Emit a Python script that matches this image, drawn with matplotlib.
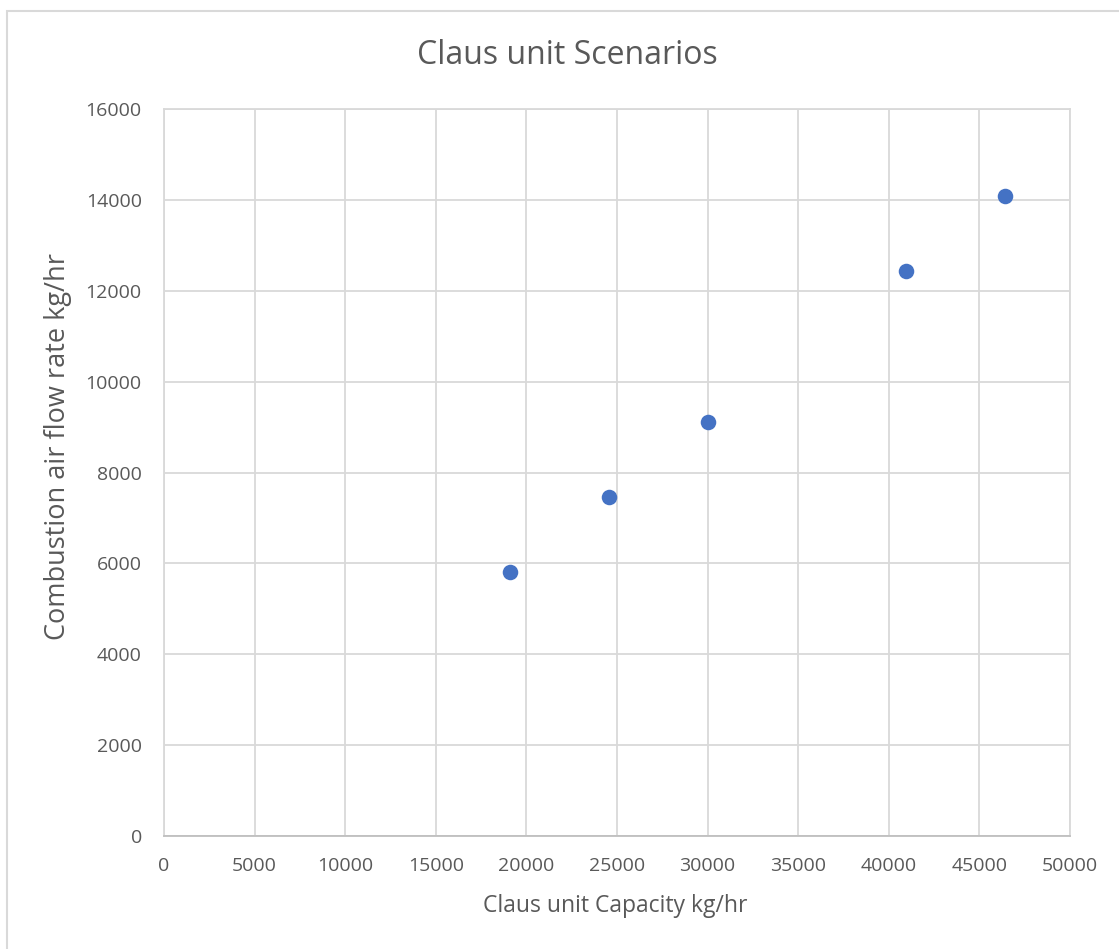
import matplotlib.pyplot as plt
from matplotlib.patches import Rectangle

# data
capacity = [19100, 24560, 30020, 40950, 46410]
air_flow = [5800, 7460, 9110, 12440, 14080]
x_ticks = list(range(0, 50001, 5000))
y_ticks = list(range(0, 16001, 2000))

TEXT = '#595959'
GRID = '#D9D9D9'
BLUE = '#4472C4'
W, H = 1119, 949

plt.rcParams['font.family'] = ['Open Sans', 'DejaVu Sans']

fig = plt.figure(figsize=(W / 100, H / 100), dpi=100)
ax = fig.add_axes([164 / W, 1 - 836 / H, 906 / W, 727 / H])

# outer chart border (only left/top edges visible in the reference)
fig.patches.append(Rectangle((7 / W, -0.1), 1.2, (H - 11) / H + 0.1,
                             transform=fig.transFigure, fill=False,
                             edgecolor=GRID, linewidth=1.5))

ax.scatter(capacity, air_flow, s=125, color=BLUE, zorder=3, linewidths=0)

ax.set_xlim(0, 50000)
ax.set_ylim(0, 16000)
ax.set_xticks(x_ticks)
ax.set_yticks(y_ticks)
ax.grid(True, color=GRID, linewidth=1.3)
ax.set_axisbelow(True)

for side in ['top', 'right', 'left']:
    ax.spines[side].set_color(GRID)
    ax.spines[side].set_linewidth(1.3)
ax.spines['bottom'].set_color('#BFBFBF')
ax.spines['bottom'].set_linewidth(1.3)
ax.tick_params(length=0, labelsize=14, colors=TEXT)
ax.tick_params(axis='x', pad=15)
ax.tick_params(axis='y', pad=16)

# title and axis titles placed like the Excel chart
fig.text(567 / W, 1 - 55 / H, 'Claus unit Scenarios', fontsize=23,
         color=TEXT, ha='center', va='center')
fig.text(615 / W, 1 - 906 / H, 'Claus unit Capacity kg/hr', fontsize=16.5,
         color=TEXT, ha='center', va='center')
fig.text(58 / W, 1 - 446 / H, 'Combustion air flow rate kg/hr', fontsize=19.5,
         color=TEXT, ha='center', va='center', rotation=90)

fig.savefig('out.png', dpi=100)
